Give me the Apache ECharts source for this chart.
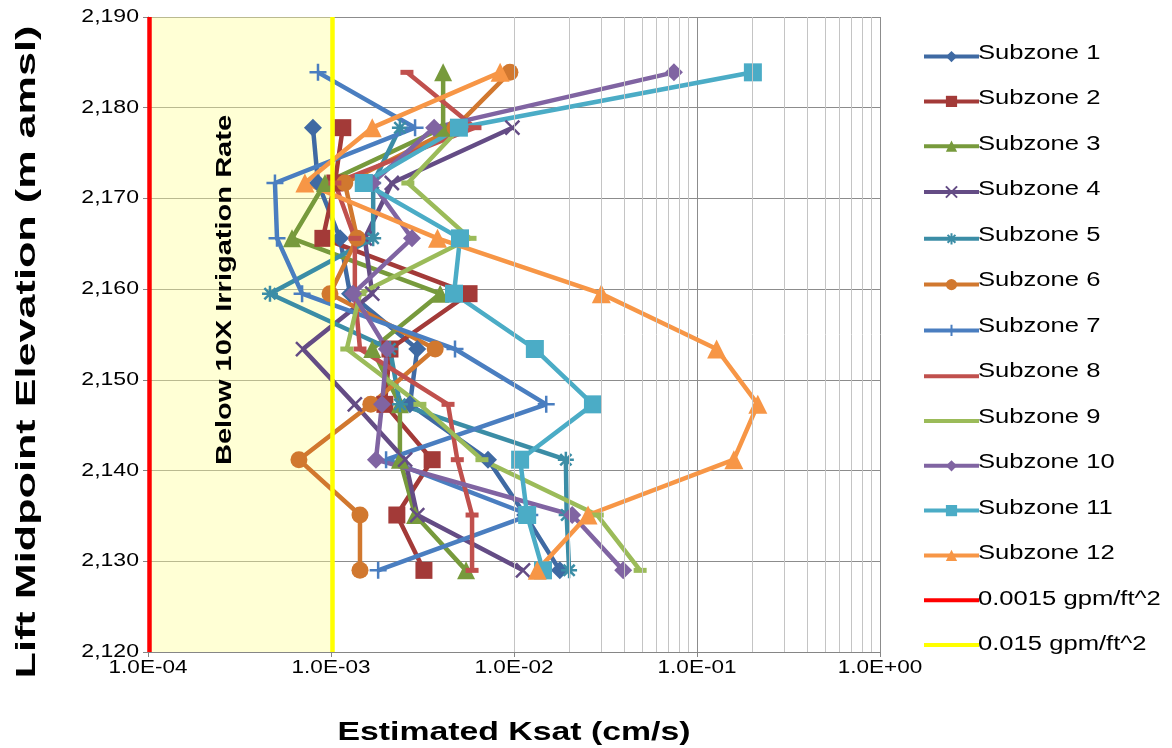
<!DOCTYPE html>
<html>
<head>
<meta charset="utf-8">
<script src="https://cdn.jsdelivr.net/npm/echarts@6/dist/echarts.min.js"></script>
<style>html,body{margin:0;padding:0;background:#fff}#c{width:1172px;height:748px}</style>
</head>
<body>
<div id="c"></div>
<script>
// Elevation levels (m amsl), top to bottom
const levels = [2183.9, 2177.8, 2171.7, 2165.6, 2159.5, 2153.4, 2147.3, 2141.2, 2135.1, 2129.0];
// Estimated Ksat (cm/s) per subzone at each level
const subzone1  = [null, 7.97e-4, 8.49e-4, 1.12e-3, 1.27e-3, 2.96e-3, 2.70e-3, 7.21e-3, 1.15e-2, 1.78e-2];
const subzone2  = [null, 1.16e-3, 1.05e-3, 9.03e-4, 5.68e-3, 2.10e-3, 1.97e-3, 3.57e-3, 2.29e-3, 3.22e-3];
const subzone3  = [4.10e-3, 4.10e-3, 9.27e-4, 6.12e-4, 3.95e-3, 1.68e-3, 2.38e-3, 2.38e-3, 2.88e-3, 5.47e-3];
const subzone4  = [null, 9.8e-3, 2.15e-3, 1.53e-3, 1.68e-3, 7.03e-4, 1.35e-3, 2.54e-3, 2.96e-3, 1.12e-2];
const subzone5  = [null, 2.38e-3, 1.70e-3, 1.70e-3, 4.64e-4, 2.10e-3, 2.38e-3, 1.92e-2, 1.94e-2, 2.0e-2];
const subzone6  = [9.5e-3, 4.76e-3, 1.19e-3, 1.39e-3, 9.87e-4, 3.71e-3, 1.65e-3, 6.68e-4, 1.44e-3, 1.44e-3];
const subzone7  = [8.49e-4, 2.88e-3, 4.94e-4, 5.07e-4, 6.95e-4, 4.76e-3, 1.50e-2, 2.0e-3, 1.22e-2, 1.81e-3];
const subzone8  = [2.60e-3, 6.12e-3, 1.05e-3, 1.35e-3, 1.35e-3, 1.44e-3, 4.36e-3, 4.9e-3, 5.9e-3, 5.9e-3];
const subzone9  = [null, 5.07e-3, 2.63e-3, 5.75e-3, 1.44e-3, 1.22e-3, 3.06e-3, 6.68e-3, 2.85e-2, 4.89e-2];
const subzone10 = [7.48e-2, 3.66e-3, 1.68e-3, 2.77e-3, 1.32e-3, 2.02e-3, 1.90e-3, 1.76e-3, 2.08e-2, 3.95e-2];
const subzone11 = [0.202, 5.0e-3, 1.51e-3, 5.07e-3, 4.70e-3, 1.30e-2, 2.7e-2, 1.08e-2, 1.18e-2, 1.44e-2];
const subzone12 = [8.4e-3, 1.68e-3, 7.2e-4, 3.82e-3, 3.0e-2, 0.128, 0.215, 0.159, 0.0254, 0.0134];
// Reference rates converted to cm/s
const rateNames = ['0.0015 gpm/ft^2', '0.015 gpm/ft^2'];
const rateValues = [1.019e-4, 1.019e-3];
const yRange = [2120, 2190];
const yTicks = [2120, 2130, 2140, 2150, 2160, 2170, 2180, 2190];
const yTickLabels = ['2,120', '2,130', '2,140', '2,150', '2,160', '2,170', '2,180', '2,190'];
const xTicks = [1e-4, 1e-3, 1e-2, 1e-1, 1];
const xTickLabels = ['1.0E-04', '1.0E-03', '1.0E-02', '1.0E-01', '1.0E+00'];
const names = ['Subzone 1','Subzone 2','Subzone 3','Subzone 4','Subzone 5','Subzone 6','Subzone 7','Subzone 8','Subzone 9','Subzone 10','Subzone 11','Subzone 12'];
const seriesVals = [subzone1,subzone2,subzone3,subzone4,subzone5,subzone6,subzone7,subzone8,subzone9,subzone10,subzone11,subzone12];

const colors = ['#3F6AA3','#A33A38','#779A3C','#644C85','#3B8DA6','#D1782F','#4A7EC0','#C0504D','#9BBB59','#8064A2','#4BACC6','#F79646'];
const X = 'path://M0,0 L10,10 M10,0 L0,10';
const AST = 'path://M5,0 L5,10 M0,5 L10,5 M1.5,1.5 L8.5,8.5 M8.5,1.5 L1.5,8.5';
const PLUS = 'path://M5,0 L5,10 M0,5 L10,5';
const symbols = ['diamond','rect','triangle',X,AST,'circle',PLUS,'rect','rect','diamond','rect','triangle'];
const sizes = [18,17,18,14,16,17,17,[13,5],[13,5],18,18,19];

const FONT = '"Liberation Sans", Arial, sans-serif';
const chart = echarts.init(document.getElementById('c'));
const series = [];

// minor gridline positions (2..9 within each decade)
const minor = [];
for (let e = -4; e < 0; e++) for (let m = 2; m <= 9; m++) minor.push({xAxis: m * Math.pow(10, e)});

series.push({
  name: '_grid', type: 'line', z: 1, data: [[1e-4, 2120]], symbol: 'none', silent: true,
  lineStyle: {opacity: 0},
  markLine: {silent: true, symbol: 'none', label: {show: false},
    lineStyle: {color: '#C4C4C4', width: 1, type: 'solid'}, data: minor, animation: false},
  markArea: {silent: true, itemStyle: {color: 'rgba(255,255,150,0.4)'},
    data: [[{xAxis: rateValues[0]}, {xAxis: rateValues[1]}]]}
});

names.forEach((n, i) => {
  const data = [];
  seriesVals[i].forEach((v, k) => { if (v !== null) data.push([v, levels[k]]); });
  const isPath = typeof symbols[i] === 'string' && symbols[i].indexOf('path://') === 0;
  series.push({
    name: n, type: 'line', data: data, symbol: symbols[i], symbolSize: sizes[i],
    showAllSymbol: true, z: 3,
    lineStyle: {color: colors[i], width: 4.5},
    itemStyle: isPath ? {color: colors[i], borderColor: colors[i], borderWidth: 2.5} : {color: colors[i]},
    emphasis: {disabled: true}, animation: false
  });
});

const rateColors = ['#FF0000', '#FFFF00'];
rateNames.forEach((n, i) => {
  series.push({
    name: n, type: 'line', symbol: 'none', z: 5,
    data: [[rateValues[i], yRange[0]], [rateValues[i], yRange[1]]],
    lineStyle: {color: rateColors[i], width: 4.5}, itemStyle: {color: rateColors[i]},
    animation: false
  });
});

const legendNames = names.concat(rateNames);
const noMarker = ['Subzone 8', 'Subzone 9'].concat(rateNames);
const legendData = legendNames.map(n => noMarker.indexOf(n) >= 0 ? {name: n, itemStyle: {opacity: 0}} : {name: n});
const legendTop = 46, legendPitch = 45.5;

chart.setOption({
  animation: false,
  textStyle: {fontFamily: FONT},
  grid: {left: 148, right: 292, top: 17, bottom: 96, containLabel: false},
  xAxis: {
    type: 'log', logBase: 10, min: 1e-4, max: 1,
    axisLine: {show: true, lineStyle: {color: '#868686', width: 1}},
    axisTick: {show: true, length: 5, lineStyle: {color: '#868686'}},
    axisLabel: {show: false},
    splitLine: {show: true, lineStyle: {color: '#8C8C8C', width: 1}}
  },
  yAxis: {
    type: 'value', min: yRange[0], max: yRange[1], interval: 10,
    axisLine: {show: true, lineStyle: {color: '#868686'}},
    axisTick: {show: true, length: 5, lineStyle: {color: '#868686'}},
    axisLabel: {show: false},
    splitLine: {show: true, lineStyle: {color: '#8C8C8C', width: 1}}
  },
  legend: {
    orient: 'vertical', left: 917, top: legendTop, itemWidth: 55, itemHeight: 14,
    itemGap: 33.6, formatter: () => '', lineStyle: {width: 4},
    textStyle: {fontSize: 12, lineHeight: 14}, data: legendData, selectedMode: false
  },
  series: series
});

// Text (stretched horizontally as in the reference) placed via the chart's own scales
const g = [];
const yPix = v => chart.convertToPixel({yAxisIndex: 0}, v);
const xPix = v => chart.convertToPixel({xAxisIndex: 0}, v);
yTicks.forEach((v, i) => g.push({type: 'text', z: 100, x: 139, y: yPix(v), scaleX: 1.28,
  style: {text: yTickLabels[i], font: '18px ' + FONT, fill: '#000', align: 'right', verticalAlign: 'middle'}}));
xTicks.forEach((v, i) => g.push({type: 'text', z: 100, x: xPix(v), y: 668, scaleX: 1.25,
  style: {text: xTickLabels[i], font: '18px ' + FONT, fill: '#000', align: 'center', verticalAlign: 'middle'}}));
legendNames.forEach((n, i) => g.push({type: 'text', z: 100, x: 978, y: 53 + i * legendPitch, scaleX: 1.28,
  style: {text: n, font: '20px ' + FONT, fill: '#000', align: 'left', verticalAlign: 'middle'}}));
g.push({type: 'text', z: 100, x: 514, y: 733, scaleX: 1.3,
  style: {text: 'Estimated Ksat (cm/s)', font: 'bold 26px ' + FONT, fill: '#000', align: 'center', verticalAlign: 'middle'}});
g.push({type: 'text', z: 100, x: 28, y: 352, rotation: Math.PI / 2, scaleX: 1.6,
  style: {text: 'Lift Midpoint Elevation (m amsl)', font: 'bold 27px ' + FONT, fill: '#000', align: 'center', verticalAlign: 'middle'}});
g.push({type: 'text', z: 100, x: 225, y: 290, rotation: Math.PI / 2, scaleX: 1.32,
  style: {text: 'Below 10X Irrigation Rate', font: 'bold 22px ' + FONT, fill: '#000', align: 'center', verticalAlign: 'middle'}});
chart.setOption({graphic: g});
</script>
</body>
</html>
